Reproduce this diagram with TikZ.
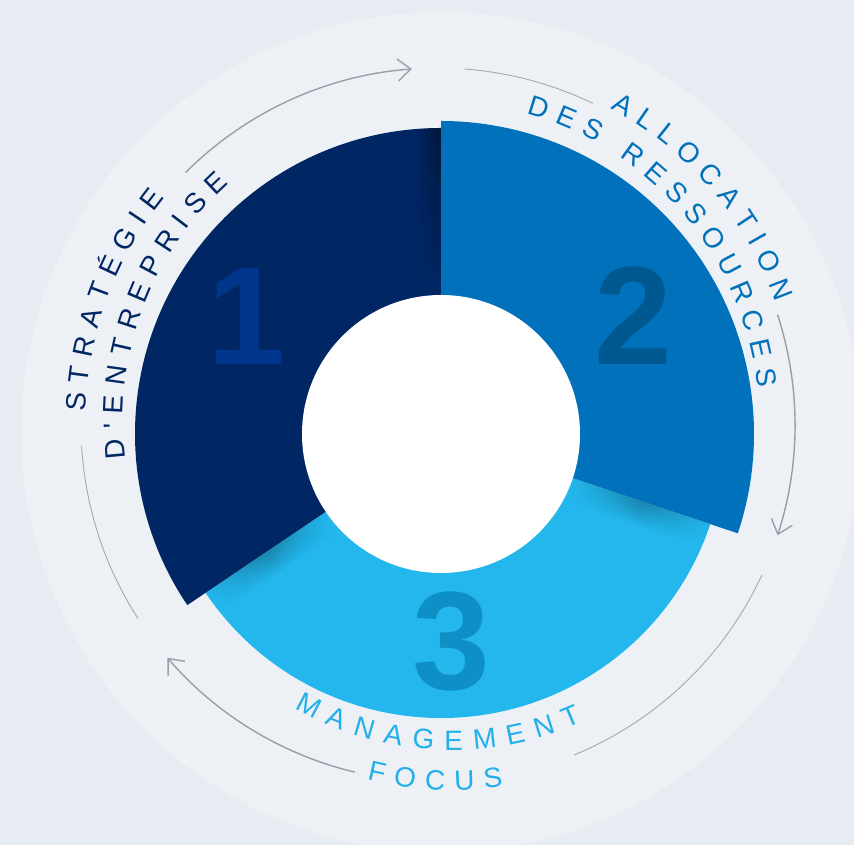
\documentclass[tikz,border=0pt]{standalone}
\usepackage{fontspec}
\setmainfont{Liberation Sans}
\usetikzlibrary{calc,arrows.meta,fadings}
\definecolor{bg}{HTML}{E6ECF1}
\definecolor{bgc}{HTML}{EDF1F5}
\definecolor{navy}{HTML}{002663}
\definecolor{navynum}{HTML}{00368C}
\definecolor{midblue}{HTML}{0071BA}
\definecolor{midnum}{HTML}{005891}
\definecolor{lightblue}{HTML}{23B7ED}
\definecolor{lightnum}{HTML}{0E90C6}
\definecolor{txtlight}{HTML}{23B0EA}
\definecolor{arcgray}{HTML}{979FA9}
\font\cwraw="Liberation Sans:mapping=tex-text" at 28pt
\font\cwplain="Liberation Sans" at 28pt
\font\numraw="Liberation Sans/B" at 140pt
\newcommand\cwapos{{\cwplain'}}
\newlength\cwl
\newcommand\cwtrack{10}
% #1 prefix, #2 centre, #3 radius, #4 start angle, #5 direction, #6 colour, #7 letters
\newcommand\cwword[7]{%
  \xdef\cwang{#4}\xdef\cwprev{0}%
  \foreach \ch [count=\ci] in {#7}{%
    \settowidth\cwl{\cwraw\ch}%
    \pgfmathsetmacro\cwhalf{\cwl/2}%
    \ifnum\ci=1 \pgfmathsetmacro\cwa{#4}\else
      \pgfmathsetmacro\cwa{\cwang+(#5)*(\cwprev+\cwhalf+\cwtrack)/#3*180/pi}\fi
    \pgfmathsetmacro\cwrot{\cwa+(#5)*90}%
    \node[letter,text=#6,rotate=\cwrot] (#1\ci) at ($(#2)+(\cwa:#3pt)$) {\ch};
    \xdef\cwang{\cwa}\xdef\cwprev{\cwhalf}%
  }}
\tikzfading[name=midfade, left color=transparent!100, right color=transparent!100, middle color=transparent!0]
\tikzfading[name=downfade, top color=transparent!0, bottom color=transparent!100]
\tikzset{
  letter/.style={font=\cwraw, inner sep=0pt, outer sep=0pt, text height=20pt, text depth=0pt, anchor=center},
  bignum/.style={font=\numraw, inner sep=0pt, anchor=base},
  arcarrow/.style={draw=arcgray, line width=1.4pt, -{Straight Barb[length=13pt,width=22pt,line width=1.4pt]}},
  arcthin/.style={draw=arcgray!90, line width=0.9pt},
}
\begin{document}
\begin{tikzpicture}[x=1pt,y=1pt]
\useasboundingbox (0,0) rectangle (854,845);
\fill[bg] (0,0) rectangle (854,845);
\coordinate (C) at (441,411);
\coordinate (R) at (438,420);
\coordinate (T) at (441,425);
\coordinate (B) at (452,413);
\coordinate (G) at (441,413);
\fill[bgc] (G) circle[radius=420pt];
% segments
\fill[lightblue] (C) -- ($(C)+(214:284pt)$) arc[start angle=214, end angle=341.5, radius=284pt] -- cycle;
\fill[navy] (C) -- ($(C)+(90:306pt)$) arc[start angle=90, end angle=214, radius=306pt] -- cycle;
\fill[midblue] (C) -- ($(C)+(-18.5:313pt)$) arc[start angle=-18.5, end angle=90, radius=313pt] -- cycle;
% shadows
\begin{scope}
  \clip (C) -- ($(C)+(214:284pt)$) arc[start angle=214, end angle=341.5, radius=284pt] -- cycle;
  \begin{scope}[shift={(C)}, rotate=214]
    \foreach \k in {0,...,7}{\pgfmathsetmacro\op{0.26*(1-\k/8)}
      \fill[black, fill opacity=\op, path fading=midfade] (139,\k*3) rectangle (284,\k*3+3);}
  \end{scope}
  \begin{scope}[shift={(C)}, rotate=-18.5]
    \foreach \k in {0,...,7}{\pgfmathsetmacro\op{0.26*(1-\k/8)}
      \fill[black, fill opacity=\op, path fading=midfade] (139,-\k*3) rectangle (284,-\k*3-3);}
  \end{scope}
\end{scope}
\begin{scope}
  \clip (C) -- ($(C)+(90:306pt)$) arc[start angle=90, end angle=214, radius=306pt] -- cycle;
  \foreach \k in {0,...,7}{\pgfmathsetmacro\op{0.4*(1-\k/8)}
    \fill[black, fill opacity=\op, path fading=downfade] (441-\k*3,560) rectangle (438-\k*3,725);}
\end{scope}
\fill[white] (C) circle[radius=139pt];
% numbers
\node[bignum, text=navynum] (n1) at (246,480) {1};
\node[bignum, text=midnum] (n2) at (633,480) {2};
\node[bignum, text=lightnum] (n3) at (451,155) {3};
% curved texts
\cwword{st}{T}{365}{177.2}{-1}{navy}{S,T,R,A,T,É,G,I,E}
\cwword{de}{T}{328}{185.1}{-1}{navy}{D,\cwapos,E,N,T,R,E,P,R,I,S,E}
\cwword{al}{T}{365}{59.9}{-1}{midblue}{A,L,L,O,C,A,T,I,O,N}
\cwword{dr}{T}{328}{72.5}{-1}{midblue}{D,E,S,~,R,E,S,S,O,U,R,C,E,S}
\cwword{ma}{B}{308}{242.35}{1}{txtlight}{M,A,N,A,G,E,M,E,N,T}
\renewcommand\cwtrack{9}
\cwword{fo}{B}{348}{257.6}{1}{txtlight}{F,O,C,U,S}
% cycle arcs
\coordinate (a1) at ($(R)+(135:357pt)$);
\coordinate (a2) at ($(R)+(85.7:357pt)$);
\coordinate (a3) at ($(R)+(18:357pt)$);
\coordinate (a4) at ($(R)+(-24.8:357pt)$);
\coordinate (a5) at ($(R)+(256.5:357pt)$);
\coordinate (a6) at ($(R)+(212.8:357pt)$);
\draw[arcarrow] (a1) arc[start angle=135, end angle=94.2, radius=357pt];
\draw[arcthin] (a2) arc[start angle=85.7, end angle=64.3, radius=357pt];
\draw[arcarrow] (a3) arc[start angle=18, end angle=-18, radius=357pt];
\draw[arcthin] (a4) arc[start angle=-24.8, end angle=-67.6, radius=357pt];
\draw[arcarrow] (a5) arc[start angle=256.5, end angle=220.7, radius=357pt];
\draw[arcthin] (a6) arc[start angle=212.8, end angle=183.4, radius=357pt];
\end{tikzpicture}
\end{document}
